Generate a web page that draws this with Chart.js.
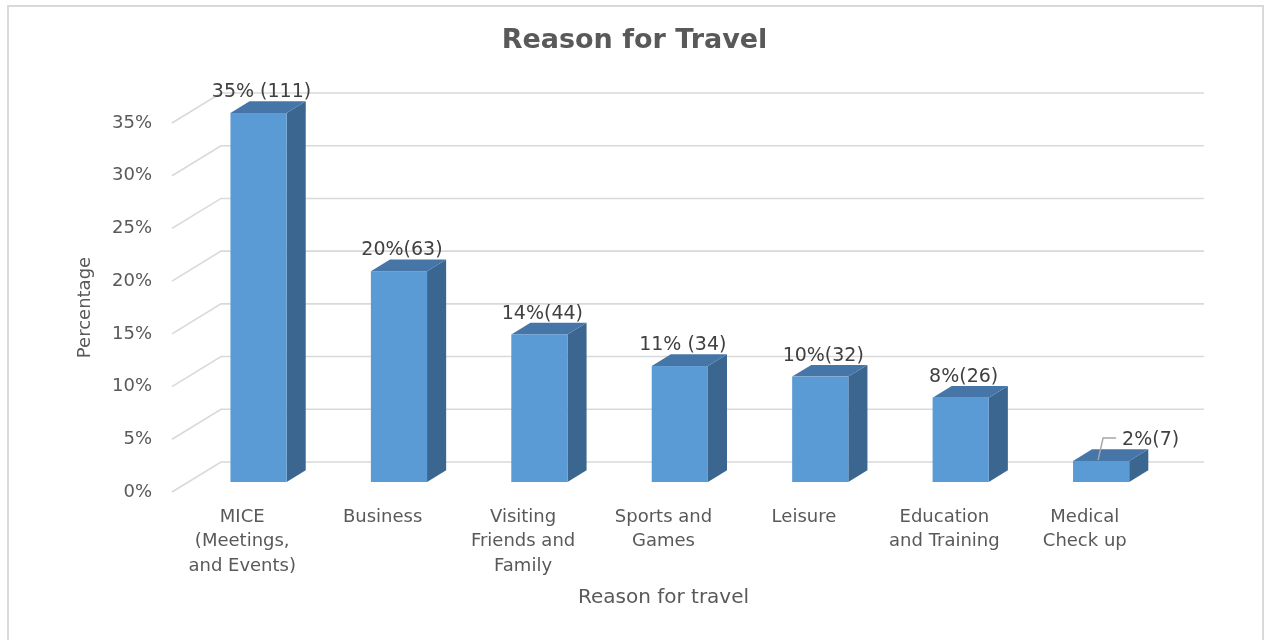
<!DOCTYPE html>
<html>
<head>
<meta charset="utf-8">
<title>Reason for Travel</title>
<script src="https://cdn.jsdelivr.net/npm/chart.js@4.4.1/dist/chart.umd.min.js"></script>
<style>
  html, body { margin: 0; padding: 0; background: #ffffff; }
  canvas { display: block; }
</style>
</head>
<body>
<canvas id="travel-chart" width="1269" height="640"></canvas>
<script>
// Categorias e valores
var categories = [
    ['MICE', '(Meetings,', 'and Events)'],
    'Business',
    ['Visiting', 'Friends and', 'Family'],
    ['Sports and', 'Games'],
    'Leisure',
    ['Education', 'and Training'],
    ['Medical', 'Check up']
];
var percentages = [35, 20, 14, 11, 10, 8, 2];
var valueLabels = ['35% (111)', '20%(63)', '14%(44)', '11% (34)', '10%(32)', '8%(26)', '2%(7)'];
var yTicks = [0, 5, 10, 15, 20, 25, 30, 35];

// Profundidade da caixa 3D
var DEPTH_X = 49;
var DEPTH_Y = -30;
var BAR_FRONT = 0.333;
var BAR_DEPTH = 0.39;

var textColor = '#595959';

// Desenha paredes, colunas 3D e rótulos
var box3d = {
    id: 'box3d',
    beforeDraw: function(chart) {
        var ctx = chart.ctx;
        ctx.save();
        ctx.fillStyle = '#ffffff';
        ctx.fillRect(0, 0, chart.width, chart.height);
        ctx.strokeStyle = '#d9d9d9';
        ctx.lineWidth = 2;
        ctx.strokeRect(8, 6, 1255, 640);
        ctx.restore();
    },
    beforeDatasetsDraw: function(chart) {
        var ctx = chart.ctx;
        var area = chart.chartArea;
        var y = chart.scales.y;
        ctx.save();
        ctx.strokeStyle = '#d9d9d9';
        ctx.lineWidth = 1.6;
        yTicks.forEach(function(v) {
            var py = y.getPixelForValue(v);
            ctx.beginPath();
            ctx.moveTo(area.left, py);
            ctx.lineTo(area.left + DEPTH_X, py + DEPTH_Y);
            ctx.lineTo(area.right + DEPTH_X, py + DEPTH_Y);
            ctx.stroke();
        });
        ctx.restore();
    },
    afterDatasetsDraw: function(chart) {
        var ctx = chart.ctx;
        var meta = chart.getDatasetMeta(0);
        var ox = DEPTH_X * BAR_FRONT, oy = DEPTH_Y * BAR_FRONT;
        var sx = DEPTH_X * BAR_DEPTH, sy = DEPTH_Y * BAR_DEPTH;
        ctx.save();
        meta.data.forEach(function(bar, i) {
            var x0 = bar.x - bar.width / 2 + ox;
            var x1 = bar.x + bar.width / 2 + ox;
            var top = bar.y + oy;
            var bottom = bar.base + oy;

            // lateral
            ctx.fillStyle = '#3a6690';
            ctx.beginPath();
            ctx.moveTo(x1, top);
            ctx.lineTo(x1 + sx, top + sy);
            ctx.lineTo(x1 + sx, bottom + sy);
            ctx.lineTo(x1, bottom);
            ctx.closePath();
            ctx.fill();

            // topo
            ctx.fillStyle = '#4676a8';
            ctx.beginPath();
            ctx.moveTo(x0, top);
            ctx.lineTo(x0 + sx, top + sy);
            ctx.lineTo(x1 + sx, top + sy);
            ctx.lineTo(x1, top);
            ctx.closePath();
            ctx.fill();

            // frente
            ctx.fillStyle = '#5b9bd5';
            ctx.fillRect(x0, top, x1 - x0, bottom - top);

            // rótulo de valor
            var cx = bar.x + ox;
            ctx.font = '19px "DejaVu Sans"';
            ctx.fillStyle = '#404040';
            ctx.textBaseline = 'middle';
            if (percentages[i] < 5) {
                ctx.strokeStyle = '#a6a6a6';
                ctx.lineWidth = 1.5;
                ctx.beginPath();
                ctx.moveTo(cx - 3, top - 1);
                ctx.lineTo(cx + 2, top - 23);
                ctx.lineTo(cx + 15, top - 23);
                ctx.stroke();
                ctx.textAlign = 'left';
                ctx.fillText(valueLabels[i], cx + 21, top - 21);
            } else {
                ctx.textAlign = 'center';
                ctx.fillText(valueLabels[i], cx + 3, top + sy - 9);
            }
        });
        ctx.restore();
    }
};

Chart.defaults.font.family = '"DejaVu Sans", sans-serif';
Chart.defaults.color = textColor;

var ctx = document.getElementById('travel-chart').getContext('2d');
var travelChart = new Chart(ctx, {
    type: 'bar',
    data: {
        labels: categories,
        datasets: [{
            label: 'Percentage',
            data: percentages,
            backgroundColor: 'rgba(0,0,0,0)',
            borderWidth: 0,
            categoryPercentage: 1,
            barPercentage: 0.4
        }]
    },
    options: {
        responsive: false,
        animation: false,
        layout: { padding: 0 },
        plugins: {
            legend: { display: false },
            tooltip: { enabled: false },
            title: {
                display: true,
                text: 'Reason for Travel',
                color: textColor,
                font: { size: 27, weight: 'bold' },
                padding: { top: 24.8, bottom: 65.8 }
            }
        },
        scales: {
            x: {
                grid: { display: false, drawTicks: false },
                border: { display: false },
                ticks: {
                    color: textColor,
                    font: { size: 18, lineHeight: 1.36 },
                    padding: 13,
                    maxRotation: 0,
                    autoSkip: false
                },
                title: {
                    display: true,
                    text: 'Reason for travel',
                    color: textColor,
                    font: { size: 20 },
                    padding: { top: 4, bottom: 30 }
                },
                afterFit: function(scale) { scale.height = 148; }
            },
            y: {
                min: 0,
                max: 35,
                grid: { display: false, drawTicks: false },
                border: { display: false },
                ticks: {
                    stepSize: 5,
                    color: textColor,
                    font: { size: 18 },
                    padding: 20,
                    callback: function(v) { return v + '%'; }
                },
                title: {
                    display: true,
                    text: 'Percentage',
                    color: textColor,
                    font: { size: 18 },
                    padding: { top: 75, bottom: 4 }
                },
                afterFit: function(scale) { scale.width = 172; }
            },
            // espaço à direita para a parede do fundo
            yRight: {
                position: 'right',
                display: true,
                grid: { display: false, drawTicks: false },
                border: { display: false },
                ticks: { display: false },
                afterFit: function(scale) { scale.width = 114; }
            }
        }
    },
    plugins: [box3d]
});
</script>
</body>
</html>
